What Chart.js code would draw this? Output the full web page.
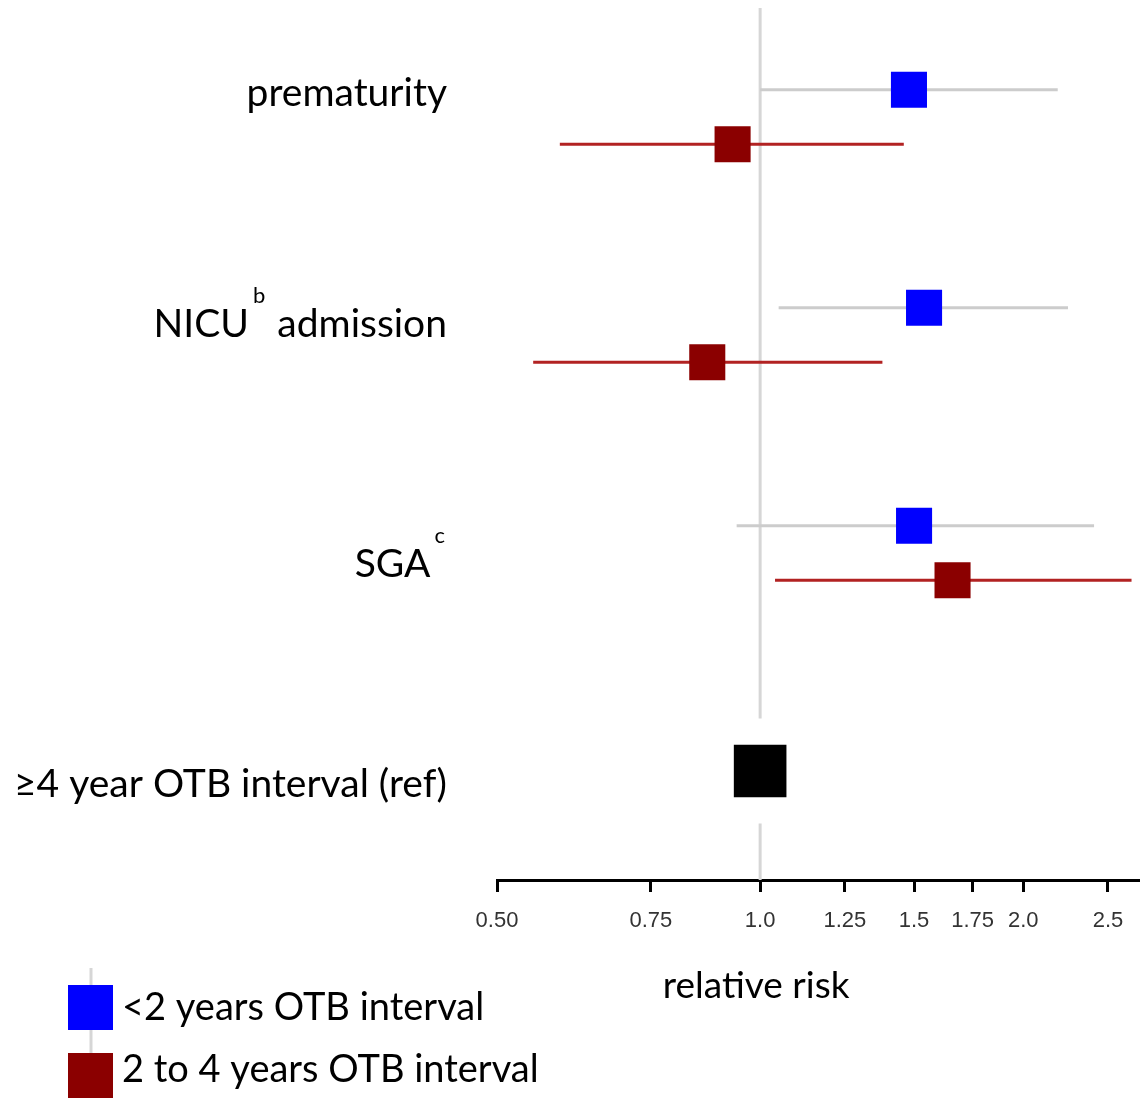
<!DOCTYPE html>
<html>
<head>
<meta charset="utf-8">
<script src="https://cdn.jsdelivr.net/npm/chart.js@4.4.1/dist/chart.umd.min.js"></script>
<style>
  html, body { margin: 0; padding: 0; background: #ffffff; }
  #wrap { position: relative; width: 1140px; height: 1098px; overflow: hidden; }
</style>
</head>
<body>
<div id="wrap"><canvas id="c" width="1140" height="1098"></canvas></div>
<script>
// ---------------- data ----------------
const categories = ['prematurity', 'NICU admission', 'SGA'];
const categorySuperscripts = ['', 'b', 'c'];
const refLabel = '≥4 year OTB interval (ref)';

const seriesNames = ['<2 years OTB interval', '2 to 4 years OTB interval'];

// <2 years OTB interval: relative risk and 95% CI
const shortRR   = [1.48, 1.54, 1.50];
const shortLow  = [1.00, 1.05, 0.94];
const shortHigh = [2.19, 2.25, 2.41];

// 2 to 4 years OTB interval
const midRR   = [0.93, 0.87, 1.66];
const midLow  = [0.59, 0.55, 1.04];
const midHigh = [1.46, 1.38, 2.66];

// reference group
const refRR = 1.0;

// axis ticks
const tickValues = [0.5, 0.75, 1.0, 1.25, 1.5, 1.75, 2.0, 2.5];
const tickLabels = ['0.50', '0.75', '1.0', '1.25', '1.5', '1.75', '2.0', '2.5'];
const axisTitle = 'relative risk';

// ---------------- layout / style ----------------
const LABEL_FONT = 'Lato';
const LABEL_SIZE = 39;
const SUP_SIZE = 22;
const ROW_SPLIT = 0.125;                 // offset of the two series within a row
const LABEL_SHIFT = [-11, 2, 24, 26];    // px: text baseline relative to row centre
const colors = ['#0000ff', '#8b0000'];
const ciColors = ['#cccccc', '#b22222'];

const rowOf = i => i + 1;
const refRow = categories.length + 1;

const mk = (rr, sign) => rr.map((v, j) => ({ x: v, y: rowOf(j) + sign * ROW_SPLIT }));

const datasets = [
  {
    label: seriesNames[0],
    data: mk(shortRR, -1),
    ciLow: shortLow, ciHigh: shortHigh, ciColor: ciColors[0],
    backgroundColor: colors[0], borderWidth: 0,
    pointStyle: 'rect', pointRadius: 25.5, pointHoverRadius: 25.5
  },
  {
    label: seriesNames[1],
    data: mk(midRR, 1),
    ciLow: midLow, ciHigh: midHigh, ciColor: ciColors[1],
    backgroundColor: colors[1], borderWidth: 0,
    pointStyle: 'rect', pointRadius: 25.5, pointHoverRadius: 25.5
  },
  {
    label: 'reference',
    data: [{ x: refRR, y: refRow }],
    backgroundColor: '#000000', borderWidth: 0,
    pointStyle: 'rect', pointRadius: 37.2, pointHoverRadius: 37.2
  }
];

function drawLabel(ctx, parts, right, baseline) {
  const main = LABEL_SIZE + 'px ' + LABEL_FONT;
  const sup = SUP_SIZE + 'px ' + LABEL_FONT;
  let total = 0;
  const widths = parts.map(p => {
    ctx.font = p.sup ? sup : main;
    const w = ctx.measureText(p.t).width + (p.sup ? 6 : 0);
    total += w;
    return w;
  });
  let xx = right - total;
  parts.forEach((p, k) => {
    ctx.font = p.sup ? sup : main;
    ctx.fillText(p.t, xx + (p.sup ? 4 : 0), p.sup ? baseline - 34 : baseline);
    xx += widths[k];
  });
}

const forestPlugin = {
  id: 'forest',
  beforeDatasetsDraw(chart) {
    const { ctx, chartArea, scales: { x } } = chart;
    const refMeta = chart.getDatasetMeta(2).data[0];
    const refX = x.getPixelForValue(refRR);
    const half = refMeta.options.radius * Math.SQRT1_2;
    const gap = 2 * half;
    ctx.save();
    ctx.strokeStyle = '#d6d6d6';
    ctx.lineWidth = 3;
    ctx.beginPath();
    ctx.moveTo(refX, chartArea.top);
    ctx.lineTo(refX, refMeta.y - gap);
    ctx.moveTo(refX, refMeta.y + gap);
    ctx.lineTo(refX, chartArea.bottom);
    ctx.stroke();

    chart.data.datasets.forEach((ds, i) => {
      if (!ds.ciLow) return;
      const meta = chart.getDatasetMeta(i);
      ctx.strokeStyle = ds.ciColor;
      ctx.lineWidth = 3;
      meta.data.forEach((pt, j) => {
        ctx.beginPath();
        ctx.moveTo(x.getPixelForValue(ds.ciLow[j]), pt.y);
        ctx.lineTo(x.getPixelForValue(ds.ciHigh[j]), pt.y);
        ctx.stroke();
      });
    });
    ctx.restore();
  },
  afterDraw(chart) {
    const { ctx, chartArea, scales: { x, y } } = chart;
    ctx.save();
    ctx.fillStyle = '#000';
    ctx.textAlign = 'left';
    ctx.textBaseline = 'alphabetic';
    const right = chartArea.left - 50;
    const labels = categories.map((c, i) => {
      if (i === 1) return [{ t: 'NICU' }, { t: categorySuperscripts[i], sup: true }, { t: ' admission' }];
      const parts = [{ t: c }];
      if (categorySuperscripts[i]) parts.push({ t: categorySuperscripts[i], sup: true });
      return parts;
    });
    labels.push([{ t: refLabel }]);
    labels.forEach((parts, i) => {
      drawLabel(ctx, parts, right, y.getPixelForValue(rowOf(i)) + LABEL_SHIFT[i]);
    });

    // axis title
    ctx.textAlign = 'center';
    ctx.font = '37px ' + LABEL_FONT;
    ctx.fillText(axisTitle, x.getPixelForValue(refRR) - 4, 998);

    // legend
    const lx = 68, box = 45;
    ctx.strokeStyle = '#d6d6d6';
    ctx.lineWidth = 3;
    ctx.beginPath();
    ctx.moveTo(lx + 23, 968);
    ctx.lineTo(lx + 23, 1060);
    ctx.stroke();
    const legendTops = [985, 1053];
    const legendBaselines = [1020, 1082];
    ctx.textAlign = 'left';
    ctx.font = '38px ' + LABEL_FONT;
    seriesNames.forEach((name, i) => {
      ctx.fillStyle = colors[i];
      ctx.fillRect(lx, legendTops[i], box, box);
      ctx.fillStyle = '#000';
      ctx.fillText(name, lx + box + 9, legendBaselines[i]);
    });
    ctx.restore();
  }
};

new Chart(document.getElementById('c'), {
  type: 'scatter',
  data: { datasets },
  options: {
    responsive: false,
    animation: false,
    events: [],
    layout: { autoPadding: false, padding: { left: 497, right: 0, top: 8, bottom: 0 } },
    plugins: { legend: { display: false }, tooltip: { enabled: false } },
    scales: {
      x: {
        type: 'logarithmic',
        min: 0.5,
        max: 2.72,
        afterBuildTicks: s => { s.ticks = tickValues.map(v => ({ value: v })); },
        afterFit: s => { s.height = 218; },
        ticks: {
          autoSkip: false,
          maxRotation: 0,
          padding: 16,
          color: '#333',
          font: { family: 'Liberation Sans', size: 22 },
          callback: (v, i) => tickLabels[i]
        },
        grid: { display: true, drawOnChartArea: false, drawTicks: true, tickLength: 12, color: '#000', lineWidth: 3 },
        border: { display: true, color: '#000', width: 3 }
      },
      y: {
        type: 'linear',
        display: false,
        reverse: true,
        min: 0.5,
        max: 4.5
      }
    }
  },
  plugins: [forestPlugin]
});
</script>
</body>
</html>
